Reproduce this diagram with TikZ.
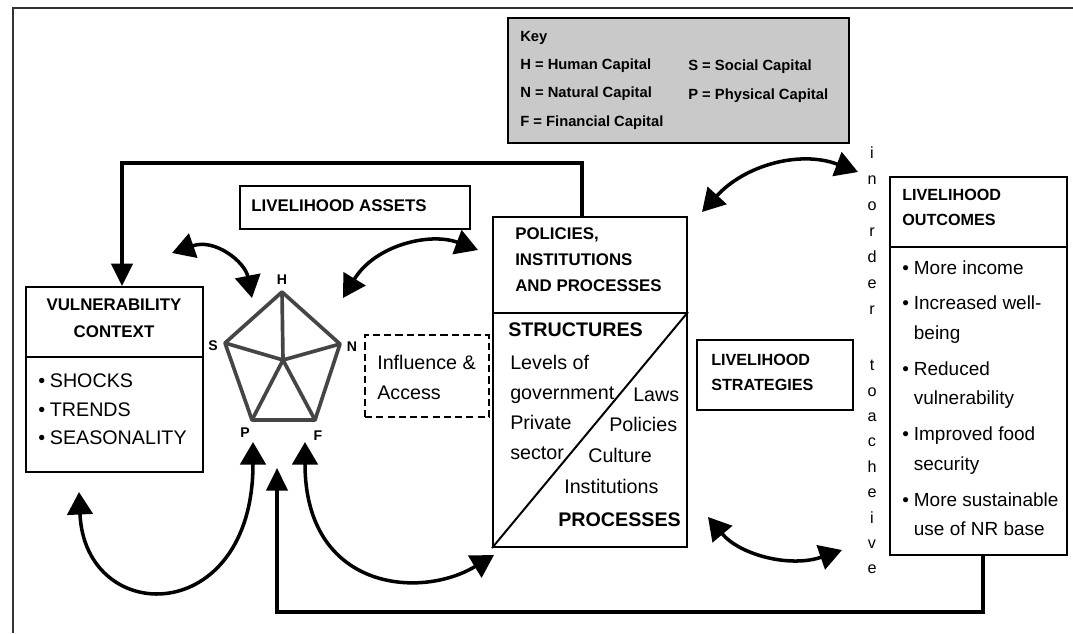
\documentclass[tikz,border=0pt]{standalone}
\usepackage{fontspec}
\setmainfont{Liberation Sans}
\usetikzlibrary{arrows.meta, positioning, fit}

\newcommand{\fsz}[2]{\fontsize{#1}{#2}\selectfont}
\newcommand{\itm}{\makebox[0.29cm][l]{\textbullet}}
\newcommand{\itmgap}{\hspace*{0.29cm}}

\definecolor{keygray}{gray}{0.79}
\definecolor{pentagray}{gray}{0.27}

\begin{document}
\begin{tikzpicture}[x=0.025cm, y=-0.025cm,
    box/.style={draw, line width=1.4pt, inner sep=0pt},
    txt/.style={inner sep=0pt, anchor=north west, align=left},
    vert/.style={inner sep=0pt, anchor=mid, font=\fsz{11.5}{13}},
    plabel/.style={inner sep=0pt, font=\bfseries\fsz{10}{12}},
    penta/.style={draw=pentagray, line width=2.6pt, line join=round},
    loopback/.style={line width=2.8pt, -{Triangle[length=16pt, width=15pt]}},
    twoway/.style={line width=2.5pt,
        {Triangle[length=16pt, width=18pt]}-{Triangle[length=16pt, width=18pt]}}]
    \useasboundingbox (0,0) rectangle (1073,633);

    % frame
    \draw[line width=0.8pt, black!80] (13,633) -- (13,8) -- (1073,8);

    % key
    \node[box, line width=1.9pt, fill=keygray, fit={(508,18) (849,143)}] (key) {};
    \node[txt, font=\bfseries\fsz{10.5}{20.1}] (keyL) at (520,31)
        {Key\\H = Human Capital\\N = Natural Capital\\F = Financial Capital};
    \node[txt, font=\bfseries\fsz{10.5}{20.1}] (keyR) at (688,60)
        {S = Social Capital\\P = Physical Capital};

    % boxes
    \node[box, fit={(26,287) (203,357)}] (vul1) {};
    \node[box, fit={(26,357) (203,472)}] (vul2) {};
    \node[box, fit={(240,186) (470,229)}] (assets) {};
    \node[box, dash pattern=on 5pt off 3pt, line width=1.6pt,
        fit={(365,335) (489,417)}] (infl) {};
    \node[box, fit={(493,217) (687,313)}] (pol1) {};
    \node[box, fit={(493,313) (687,547)}] (pol2) {};
    \node[box, fit={(697,340) (853,410)}] (strat) {};
    \node[box, fit={(890,177) (1067,247)}] (out1) {};
    \node[box, fit={(890,247) (1067,555)}] (out2) {};
    \draw[line width=1.4pt] (pol2.south west) -- (pol2.north east);

    % texts
    \node[txt, anchor=north, align=center, font=\bfseries\fsz{12}{19}] (vulTxt)
        at (114,299) {VULNERABILITY\\CONTEXT};
    \node[txt, font=\fsz{14}{20.6}] (vulList) at (38,373)
        {\itm SHOCKS\\\itm TRENDS\\\itm SEASONALITY};
    \node[txt, anchor=mid west, font=\bfseries\fsz{12}{14}] (assetsTxt)
        at (251,208) {LIVELIHOOD ASSETS};
    \node[txt, font=\fsz{14}{21.3}] (inflTxt) at (377,355) {Influence \&\\Access};
    \node[txt, font=\bfseries\fsz{12}{18.5}] (polTxt) at (515,227)
        {POLICIES,\\INSTITUTIONS\\AND PROCESSES};
    \node[txt, anchor=mid west, font=\bfseries\fsz{14}{16}] (strucTxt)
        at (508,333) {STRUCTURES};
    \node[txt, font=\fsz{14}{21.3}] (strucL) at (510,355)
        {Levels of\\government\\Private\\sector};
    \node[txt, anchor=mid west, font=\fsz{14}{16}] (laws) at (633,398) {Laws};
    \node[txt, anchor=mid west, font=\fsz{14}{16}] (policies) at (609,428) {Policies};
    \node[txt, anchor=mid west, font=\fsz{14}{16}] (culture) at (588,459) {Culture};
    \node[txt, anchor=mid west, font=\fsz{14}{16}] (instit) at (564,490) {Institutions};
    \node[txt, anchor=mid west, font=\bfseries\fsz{14}{16}] (procTxt)
        at (558,523) {PROCESSES};
    \node[txt, font=\bfseries\fsz{11.5}{17.8}] (stratTxt) at (711,354)
        {LIVELIHOOD\\STRATEGIES};
    \node[txt, font=\bfseries\fsz{11.5}{17.8}] (outTxt) at (902,189)
        {LIVELIHOOD\\OUTCOMES};
    \node[txt, font=\fsz{13.5}{21}] (outList) at (902,260)
        {\itm More income\\[4.5pt]
         \itm Increased well-\\\itmgap being\\[4.5pt]
         \itm Reduced\\\itmgap vulnerability\\[4.5pt]
         \itm Improved food\\\itmgap security\\[4.5pt]
         \itm More sustainable\\\itmgap use of NR base};

    % in order to acheive
    \foreach \c [count=\i from 0] in {i,n,o,r,d,e,r}
        \node[vert] (vA\i) at (872,{155+26*\i}) {\c};
    \foreach \c [count=\i from 0] in {t,o,a,c,h,e,i,v,e}
        \node[vert] (vB\i) at (872,{367+25.4*\i}) {\c};

    % asset pentagon
    \coordinate (pH) at (282,292);
    \coordinate (pS) at (225,343);
    \coordinate (pN) at (340,344);
    \coordinate (pP) at (252,420);
    \coordinate (pF) at (315,420);
    \coordinate (pC) at (283,360);
    \draw[penta] (pH) -- (pN) -- (pF) -- (pP) -- (pS) -- cycle;
    \foreach \v in {pH,pN,pF,pP,pS}
        \draw[penta] (pC) -- (\v);
    \node[plabel] (lH) at (282,280) {H};
    \node[plabel] (lS) at (213,346) {S};
    \node[plabel] (lN) at (352,347) {N};
    \node[plabel] (lP) at (245,433) {P};
    \node[plabel] (lF) at (318,436) {F};

    % feedback lines
    \coordinate (fbTR) at (582,163);
    \coordinate (fbTL) at (122,163);
    \draw[loopback] (pol1.north -| fbTR) -- (fbTR) -- (fbTL) -- (fbTL |- vul1.north);
    \coordinate (fbBR) at (983,612);
    \coordinate (fbBL) at (277,612);
    \coordinate (fbTip) at (277,468);
    \draw[loopback] (out2.south -| fbBR) -- (fbBR) -- (fbBL) -- (fbTip);

    % two way arrows
    \coordinate (aVul) at (172,253);
    \coordinate (aH) at (252,298);
    \coordinate (bH) at (343,298);
    \coordinate (bPol) at (478,250);
    \coordinate (cPol) at (702,212);
    \coordinate (cOut) at (858,172);
    \coordinate (dPol) at (708,517);
    \coordinate (dOut) at (842,550);
    \coordinate (eVul) at (79,492);
    \coordinate (eP) at (253,442);
    \coordinate (fF) at (305,442);
    \coordinate (fPol) at (494,555);
    \draw[twoway] (aVul) .. controls (215,238) and (245,262) .. (aH);
    \draw[twoway] (bH) .. controls (375,245) and (430,232) .. (bPol);
    \draw[twoway] (cPol) .. controls (745,165) and (800,150) .. (cOut);
    \draw[twoway] (dPol) .. controls (740,555) and (790,568) .. (dOut);
    \draw[twoway] (eVul) .. controls (85,628) and (253,628) .. (eP);
    \draw[twoway] (fF) .. controls (305,590) and (420,600) .. (fPol);
\end{tikzpicture}
\end{document}
